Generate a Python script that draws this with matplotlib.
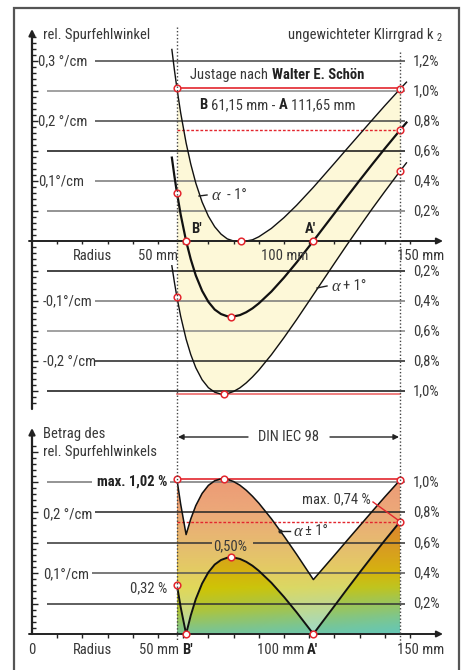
import numpy as np
import matplotlib
matplotlib.use('Agg')
import matplotlib.pyplot as plt
from matplotlib.colors import LinearSegmentedColormap
from matplotlib.patches import Rectangle, PathPatch
from matplotlib.lines import Line2D
import matplotlib.transforms as mtrans
from matplotlib import font_manager

# ---------------- data ----------------
radius_mm = [55.5, 56.5, 57.5, 59, 61.15, 63, 65, 67.5, 70, 72.5, 75, 77.5, 80, 82.5,
             85, 87.5, 90, 95, 100, 105, 111.65, 115, 120, 125, 130, 135, 140, 146.05, 148.6]
# relative tracking error expressed as k2 distortion (%)
err_alpha = [0.556, 0.434, 0.323, 0.176, 0.0, -0.122, -0.230, -0.332, -0.406, -0.457, -0.487,
             -0.502, -0.503, -0.494, -0.475, -0.449, -0.416, -0.337, -0.244, -0.143, 0.0,
             0.074, 0.184, 0.295, 0.404, 0.511, 0.616, 0.739, 0.790]
err_minus1 = [1.277, 1.142, 1.019, 0.854, 0.654, 0.513, 0.386, 0.260, 0.165, 0.095, 0.046,
              0.014, 0.000, -0.003, 0.000, 0.008, 0.028, 0.084, 0.156, 0.238, 0.358,
              0.422, 0.518, 0.615, 0.711, 0.807, 0.902, 1.013, 1.059]
err_plus1 = [-0.165, -0.274, -0.373, -0.502, -0.654, -0.757, -0.845, -0.925, -0.978, -1.008,
             -1.021, -1.018, -1.003, -0.979, -0.946, -0.906, -0.861, -0.758, -0.644, -0.524,
             -0.358, -0.274, -0.149, -0.025, 0.096, 0.215, 0.330, 0.466, 0.521]

inner_r = 57.5      # DIN IEC 98 inner radius
outer_r = 146.05    # DIN IEC 98 outer radius
null_B = 61.15
null_A = 111.65
max_dev = 1.02
max_outer = 0.74

top_marks_r = [57.5, 57.5, 57.5, 61.15, 83.0, 79.0, 111.65, 76.0, 146.05, 146.05, 146.05]
top_marks_v = [1.019, 0.323, -0.373, 0.0, 0.0, -0.504, 0.0, -1.02, 1.013, 0.739, 0.466]
bot_marks_r = [57.5, 76.0, 146.05, 146.05, 57.5, 61.15, 79.0, 111.65]
bot_marks_v = [1.02, 1.02, 1.013, 0.739, 0.323, 0.0, 0.504, 0.0]

top_left_vals = [1.2, 0.8, 0.4, -0.4, -0.8]
top_left_labels = ['0,3 °/cm', '0,2 °/cm', '0,1°/cm', '-0,1°/cm', '-0,2 °/cm']
top_right_vals = [1.2, 1.0, 0.8, 0.6, 0.4, 0.2, -0.2, -0.4, -0.6, -0.8, -1.0]
top_right_labels = ['1,2%', '1,0%', '0,8%', '0,6%', '0,4%', '0,2%',
                    '0,2%', '0,4%', '0,6%', '0,8%', '1,0%']
bot_right_vals = [1.0, 0.8, 0.6, 0.4, 0.2]
bot_right_labels = ['1,0%', '0,8%', '0,6%', '0,4%', '0,2%']
x_ticks_mm = [10, 20, 30, 40, 50, 60, 70, 80, 90, 100, 110, 120, 130, 140, 150]

# ---------------- fonts ----------------
_names = {f.name for f in font_manager.fontManager.ttflist}
SANS = 'DejaVu Sans'
for cand in ['Liberation Sans Narrow', 'Roboto Condensed', 'Liberation Sans', 'Roboto']:
    if cand in _names:
        SANS = cand
        break
FAM = [SANS, 'DejaVu Sans']
SERIF = ['Liberation Serif', 'DejaVu Serif']
TXT = '#383838'
RED = '#e3262e'

# ---------------- pixel helpers (layout only) ----------------
def mx(px):
    return (px - 32) / 2.52

def vt(py):
    return (241 - py) / 150.0

def vb(py):
    return (634 - py) / 152.0

fig = plt.figure(figsize=(4.65, 6.70), dpi=100)
fig.patch.set_facecolor('white')
renderer = fig.canvas.get_renderer()
ax1 = fig.add_axes([0, 1 - 415 / 670, 1, 415 / 670])
ax2 = fig.add_axes([0, 0, 1, 255 / 670])
for ax in (ax1, ax2):
    ax.set_xlim(mx(0), mx(465))
    ax.axis('off')
ax1.set_ylim(vt(415), vt(0))
ax2.set_ylim(vb(670), vb(415))

def text(ax, conv, px, py, s, ha='left', size=10.5, weight='normal', family=None,
         style='normal', color=TXT, va='center'):
    return ax.text(mx(px), conv(py), s, ha=ha, va=va, fontsize=size, fontweight=weight,
                   family=family or FAM, style=style, color=color, clip_on=False, zorder=10)

def chain(ax, conv, px, py, pieces, gap=3.5):
    """pieces: list of (string, weight); drawn one after another from px."""
    x = px
    for s, wgt in pieces:
        t = text(ax, conv, x, py, s, weight=wgt, color='#222' if wgt == 'bold' else TXT)
        bb = t.get_window_extent(renderer=renderer)
        x += bb.width + gap

r = np.array(radius_mm)
a = np.array(err_alpha)
m1 = np.array(err_minus1)
p1 = np.array(err_plus1)
inside = (r >= inner_r - 1e-9) & (r <= outer_r + 1e-9)
ri = r[inside]

# ================= top panel =================
ax1.fill_between(ri, m1[inside], p1[inside], color='#fdf8d8', lw=0, zorder=1)

grid_styles = {1.2: '#444', 1.0: '#888', 0.8: '#444', 0.6: '#111', 0.4: '#777', 0.2: '#777',
               -0.2: '#111', -0.4: '#777', -0.6: '#888', -0.8: '#222', -1.0: '#111'}
for v in top_right_vals:
    start = 95 if v in top_left_vals else 47
    ax1.plot([mx(start), mx(405)], [v, v], color=grid_styles[v], lw=1.1, zorder=2,
             solid_capstyle='butt')

ax1.plot([inner_r, outer_r], [max_dev, max_dev], color=RED, lw=1.2, zorder=3)
ax1.plot([inner_r, outer_r], [-max_dev, -max_dev], color='#ee6a6a', lw=1.2, zorder=3)
ax1.plot([inner_r, outer_r], [max_outer, max_outer], color=RED, lw=1.0,
         ls=(0, (2, 1.3)), zorder=3)

ax1.plot(r, m1, color='#111', lw=1.0, zorder=4)
ax1.plot(r, a, color='#111', lw=1.6, zorder=4)
ax1.plot(r, p1, color='#111', lw=1.0, zorder=4)
ax1.plot(top_marks_r, top_marks_v, 'o', ms=4.8, mfc='white', mec=RED, mew=1.1, zorder=6)

ax1.annotate('', xy=(0, vt(29)), xytext=(0, vt(409)),
             arrowprops=dict(arrowstyle='-|>', color='#222', lw=1.6, mutation_scale=9,
                             shrinkA=0, shrinkB=0), zorder=5)
ax1.annotate('', xy=(mx(443), 0), xytext=(mx(29), 0),
             arrowprops=dict(arrowstyle='-|>', color='#222', lw=1.4, mutation_scale=9,
                             shrinkA=0, shrinkB=0), zorder=5)
tv = np.round(np.arange(-1.08, 1.37, 0.04), 2)
for v in tv:
    if abs(v) < 1e-6:
        continue
    major = abs(round(v / 0.2) * 0.2 - v) < 1e-6
    ax1.plot([0, mx(32 + (6 if major else 4))], [v, v], color='#222', lw=1.0, zorder=5,
             solid_capstyle='butt')
ax1.vlines(x_ticks_mm, vt(241), vt(244), color='#222', lw=1.0, zorder=5)

for v, s in zip(top_left_vals, top_left_labels):
    text(ax1, vt, 38 if v > 0 else 43, 241 - 150 * v, s)
for v, s in zip(top_right_vals, top_right_labels):
    text(ax1, vt, 413, 241 - 150 * v, s)
text(ax1, vt, 43, 35, 'rel. Spurfehlwinkel')
text(ax1, vt, 434, 35, 'ungewichteter Klirrgrad k', ha='right')
text(ax1, vt, 437, 38, '2', size=7.5)
text(ax1, vt, 73, 256, 'Radius')
text(ax1, vt, 158, 256, '50 mm', ha='center')
text(ax1, vt, 285, 256, '100 mm', ha='center')
text(ax1, vt, 421, 256, '150 mm', ha='center')
text(ax1, vt, 196, 229, "B'", ha='center', weight='bold', color='#222')
text(ax1, vt, 310, 229, "A'", ha='center', weight='bold', color='#222')
chain(ax1, vt, 190, 75, [('Justage nach', 'normal'), ('Walter E. Schön', 'bold')])
chain(ax1, vt, 199, 105, [('B', 'bold'), ('61,15 mm -', 'normal'), ('A', 'bold'),
                          ('111,65 mm', 'normal')])
ax1.plot([mx(199), mx(207)], [vt(196), vt(195)], color='#222', lw=1.0, zorder=5)
text(ax1, vt, 212, 196, 'α', family=SERIF, style='italic', size=12)
text(ax1, vt, 227, 195, '- 1°')
ax1.plot([mx(317), mx(327)], [vt(288), vt(286)], color='#222', lw=1.0, zorder=5)
text(ax1, vt, 331, 287, 'α', family=SERIF, style='italic', size=12)
text(ax1, vt, 343, 286, '+ 1°')

# ================= bottom panel =================
abs_a = np.abs(a[inside])
env = np.maximum(np.abs(m1[inside]), np.abs(p1[inside]))

stops = [(0.0, (120, 196, 150)), (0.15 / 1.06, (176, 196, 56)), (0.30 / 1.06, (210, 196, 0)),
         (0.45 / 1.06, (214, 172, 20)), (0.55 / 1.06, (216, 158, 32)),
         (0.80 / 1.06, (226, 122, 50)), (1.0, (226, 98, 44))]
cmap = LinearSegmentedColormap.from_list('grad', [(p, tuple(c / 255 for c in col)) for p, col in stops])
vs = np.linspace(0, 1.06, 240)
xs = np.linspace(0, 1, 240)
base = cmap(vs / 1.06)[:, :3]
img = np.repeat(base[:, None, :], len(xs), axis=1)
teal = np.array([96, 200, 192]) / 255
w = (xs[None, :] * np.clip(1 - vs[:, None] / 0.4, 0, 1) * 0.75)[:, :, None]
img = img * (1 - w) + teal * w
im = ax2.imshow(img, extent=[inner_r, outer_r, 0, 1.06], origin='lower', aspect='auto',
                zorder=1, interpolation='bilinear')
verts = np.concatenate([np.column_stack([ri, env]), [[outer_r, 0], [inner_r, 0]]])
clip = PathPatch(matplotlib.path.Path(verts, closed=False), transform=ax2.transData,
                 facecolor='none', edgecolor='none')
ax2.add_patch(clip)
im.set_clip_path(clip)
ax2.set_xlim(mx(0), mx(465))
ax2.set_ylim(vb(670), vb(415))
ax2.fill_between(ri, abs_a, env, color='white', alpha=0.35, lw=0, zorder=2)

bgrid = [(1.0, [(47, 92), (170, 405)], '#777'), (0.8, [(95, 405)], '#222'),
         (0.6, [(47, 212), (253, 405)], '#333'), (0.4, [(92, 405)], '#555'),
         (0.2, [(47, 405)], '#333')]
for v, segs, col in bgrid:
    for s0, s1 in segs:
        ax2.plot([mx(s0), mx(s1)], [v, v], color=col, lw=1.1, zorder=3, solid_capstyle='butt')

ax2.plot([inner_r, outer_r], [max_dev, max_dev], color=RED, lw=1.2, zorder=3)
ax2.plot([inner_r, outer_r], [max_outer, max_outer], color=RED, lw=1.0,
         ls=(0, (2, 1.3)), zorder=3)
ax2.plot(ri, env, color='#111', lw=1.1, zorder=4)
ax2.plot(ri, abs_a, color='#111', lw=1.4, zorder=4)
ax2.plot([mx(373), outer_r], [vb(502), max_outer], color=RED, lw=1.0, zorder=5)
ax2.plot(bot_marks_r, bot_marks_v, 'o', ms=4.8, mfc='white', mec=RED, mew=1.1, zorder=6)

ax2.annotate('', xy=(0, vb(428)), xytext=(0, vb(634)),
             arrowprops=dict(arrowstyle='-|>', color='#222', lw=1.6, mutation_scale=9,
                             shrinkA=0, shrinkB=0), zorder=5)
ax2.annotate('', xy=(mx(443), 0), xytext=(mx(29), 0),
             arrowprops=dict(arrowstyle='-|>', color='#222', lw=1.4, mutation_scale=9,
                             shrinkA=0, shrinkB=0), zorder=5)
tvb = np.round(np.arange(0.04, 1.25, 0.04), 2)
for v in tvb:
    major = abs(round(v / 0.2) * 0.2 - v) < 1e-6
    ax2.plot([0, mx(32 + (6 if major else 4))], [v, v], color='#222', lw=1.0, zorder=5,
             solid_capstyle='butt')
ax2.vlines(x_ticks_mm, vb(634), vb(638), color='#222', lw=1.0, zorder=5)

ax2.annotate('', xy=(mx(178), vb(437)), xytext=(mx(248), vb(437)),
             arrowprops=dict(arrowstyle='-|>', color='#222', lw=1.0, mutation_scale=8,
                             shrinkA=0, shrinkB=0))
ax2.annotate('', xy=(mx(399), vb(437)), xytext=(mx(330), vb(437)),
             arrowprops=dict(arrowstyle='-|>', color='#222', lw=1.0, mutation_scale=8,
                             shrinkA=0, shrinkB=0))
text(ax2, vb, 289, 437, 'DIN IEC 98', ha='center')

text(ax2, vb, 43, 434, 'Betrag des')
text(ax2, vb, 43, 452, 'rel. Spurfehlwinkels')
text(ax2, vb, 167, 482, 'max. 1,02 %', ha='right', weight='bold', color='#222')
text(ax2, vb, 43, 514, '0,2 °/cm')
text(ax2, vb, 43, 574, '0,1°/cm')
text(ax2, vb, 213, 546, '0,50%')
text(ax2, vb, 167, 588, '0,32 %', ha='right')
text(ax2, vb, 302, 499, 'max. 0,74 %')
ax2.plot([mx(280), mx(290)], [vb(531), vb(531)], color='#222', lw=1.0, zorder=5)
ax2.plot([mx(280)], [vb(531)], 'o', ms=2, color='#222', zorder=5)
text(ax2, vb, 293, 532, 'α', family=SERIF, style='italic', size=12)
text(ax2, vb, 305, 531, '± 1°')
for v, s in zip(bot_right_vals, bot_right_labels):
    text(ax2, vb, 413, 634 - 152 * v, s)
text(ax2, vb, 32, 650, '0', ha='center')
text(ax2, vb, 73, 650, 'Radius')
text(ax2, vb, 179, 650, '50 mm', ha='right')
text(ax2, vb, 182, 650, "B'", weight='bold', color='#222')
text(ax2, vb, 304, 650, '100 mm', ha='right')
text(ax2, vb, 307, 650, "A'", weight='bold', color='#222')
text(ax2, vb, 421, 650, '150 mm', ha='center')

bt = mtrans.blended_transform_factory(ax1.transData, fig.transFigure)
for xr, y0, y1 in [(inner_r, 27, 640), (outer_r, 52, 643)]:
    fig.add_artist(Line2D([xr, xr], [1 - y0 / 670, 1 - y1 / 670], transform=bt,
                          color='#444', lw=1.0, ls=(0, (1, 1.5)), zorder=7))

fig.add_artist(Rectangle((14 / 465, -0.02), 445 / 465, 1.02 - 8 / 670, transform=fig.transFigure,
                         fill=False, ec='#555', lw=1.6))

fig.savefig('out.png', dpi=100, facecolor='white')
